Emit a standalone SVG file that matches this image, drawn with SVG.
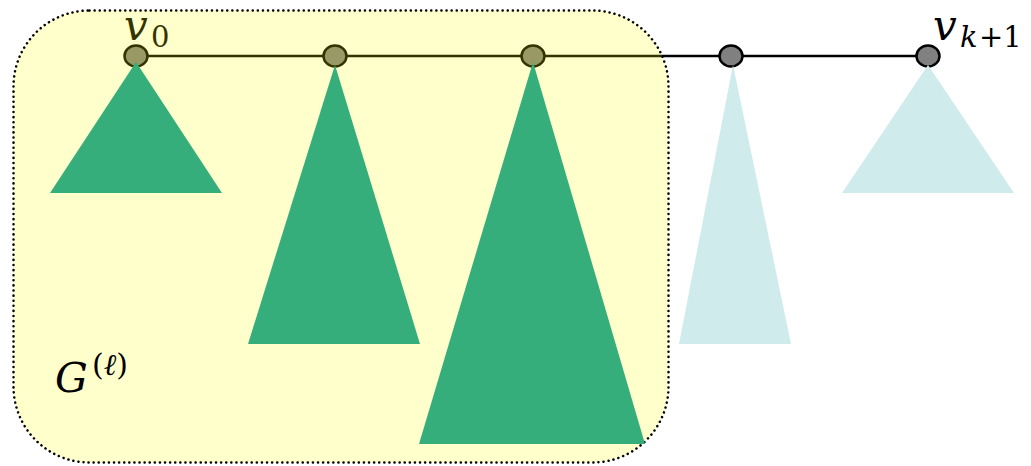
<svg xmlns="http://www.w3.org/2000/svg" width="1031" height="466" viewBox="0 0 1031 466">
  <style>
    .edge { stroke: #000; stroke-width: 2.5; fill: none; }
    .node { fill: #808080; stroke: #000; stroke-width: 2.5; }
    .tree { fill: #35AE7C; }
    .tree-faint { fill: #D0EBEB; }
    .math { font-family: "DejaVu Serif", "Liberation Serif", serif; font-style: italic; fill: #000; }
    .sub { font-family: "DejaVu Serif", "Liberation Serif", serif; font-style: normal; fill: #000; }
  </style>
  <rect width="1031" height="466" fill="#fff"/>

  <!-- path v0 ... v(k+1) -->
  <g id="connectors">
    <line class="edge" x1="136" y1="56" x2="928" y2="56"/>
  </g>
  <g id="v0"><ellipse class="node" cx="136" cy="56" rx="11.5" ry="10.5"/></g>
  <g id="v1"><ellipse class="node" cx="335" cy="56" rx="11.5" ry="10.5"/></g>
  <g id="v2"><ellipse class="node" cx="533" cy="56" rx="11.5" ry="10.5"/></g>
  <g id="vk"><ellipse class="node" cx="731" cy="56" rx="11.5" ry="10.5"/></g>
  <g id="vk1"><ellipse class="node" cx="928" cy="56" rx="11.5" ry="10.5"/></g>

  <g id="label-v0">
    <text class="math" x="124" y="40" font-size="42">v</text>
    <text class="sub" x="151" y="47" font-size="29">0</text>
  </g>
  <g id="label-vk1">
    <text class="math" x="933" y="40" font-size="42">v</text>
    <text class="math" x="960" y="47" font-size="29">k</text>
    <text class="sub" x="979" y="47" font-size="29">+1</text>
  </g>

  <!-- subgraph G^(l): translucent yellow region -->
  <g id="subgraph">
    <rect x="13.5" y="10.5" width="655" height="452" rx="76" ry="76" fill="#FFFF00" fill-opacity="0.2" stroke="#000" stroke-width="2.5" stroke-dasharray="0.1 5" stroke-linecap="round"/>
    <text class="math" x="55" y="392" font-size="41">G</text>
    <text class="sub" x="92" y="375" font-size="30">(<tspan font-style="italic">ℓ</tspan>)</text>
  </g>

  <!-- subtrees hanging off the path -->
  <g id="tree0"><polygon class="tree" points="136,62 222,193 50,193"/></g>
  <g id="tree1"><polygon class="tree" points="335,65 420,344 248,344"/></g>
  <g id="tree2"><polygon class="tree" points="533,62 645,444 419,444"/></g>
  <g id="treek"><polygon class="tree-faint" points="733,65 791,344 679,344"/></g>
  <g id="treek1"><polygon class="tree-faint" points="928,65 1014,193 842,193"/></g>
</svg>
